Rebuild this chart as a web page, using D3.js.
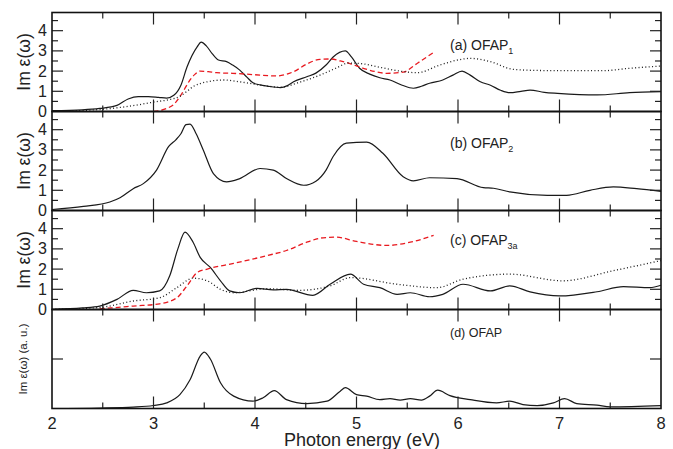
<!DOCTYPE html>
<html lang="en">
<head>
<meta charset="UTF-8">
<title>Im eps spectra</title>
<script src="https://d3js.org/d3.v7.min.js"></script>
<style>
  body { margin: 0; background: #fff; }
  svg text { font-family: "Liberation Sans", Arial, Helvetica, sans-serif; fill: #222; }
</style>
</head>
<body>
<div id="chart"></div>
<script>
// photon energy axis
const energyTicks = [2, 3, 4, 5, 6, 7, 8];
const epsTicks = [0, 1, 2, 3, 4];

// (a) OFAP1  [eV, Im eps]
const aSolid = [[2.0,0.04],[2.3,0.08],[2.47,0.15],[2.64,0.3],[2.75,0.62],[2.85,0.74],[2.95,0.74],[3.05,0.7],[3.13,0.66],[3.2,0.8],[3.27,1.3],[3.33,2.2],[3.43,3.2],[3.47,3.43],[3.52,3.25],[3.58,2.85],[3.64,2.55],[3.72,2.47],[3.78,2.3],[3.85,2.05],[3.92,1.7],[3.98,1.42],[4.05,1.32],[4.12,1.26],[4.25,1.18],[4.32,1.28],[4.38,1.47],[4.51,1.72],[4.6,1.9],[4.7,2.3],[4.77,2.7],[4.89,3.0],[4.95,2.7],[5.03,2.14],[5.13,1.85],[5.23,1.67],[5.33,1.56],[5.45,1.3],[5.56,1.15],[5.64,1.25],[5.72,1.4],[5.85,1.56],[5.95,1.8],[6.04,2.0],[6.12,1.8],[6.22,1.47],[6.32,1.3],[6.42,1.05],[6.51,0.93],[6.62,1.0],[6.71,1.06],[6.85,0.95],[6.98,0.9],[7.37,0.82],[7.69,0.93],[8.0,0.98]];
const aDashed = [[3.0,0.0],[3.13,0.15],[3.2,0.35],[3.26,0.73],[3.31,1.15],[3.36,1.56],[3.41,1.85],[3.46,2.0],[3.54,1.97],[3.62,1.92],[3.78,1.89],[4.0,1.82],[4.21,1.76],[4.3,1.83],[4.38,1.97],[4.51,2.35],[4.64,2.58],[4.75,2.6],[4.84,2.5],[4.95,2.35],[5.06,2.15],[5.18,1.98],[5.3,1.89],[5.46,1.95],[5.6,2.39],[5.77,2.96]];
const aDotted = [[2.0,0.02],[2.3,0.05],[2.47,0.1],[2.8,0.29],[3.03,0.49],[3.15,0.58],[3.26,0.75],[3.33,1.0],[3.39,1.23],[3.53,1.47],[3.69,1.56],[3.85,1.47],[4.05,1.31],[4.25,1.2],[4.44,1.45],[4.64,1.8],[4.8,2.15],[4.92,2.4],[5.06,2.36],[5.22,2.2],[5.4,2.02],[5.6,1.92],[5.82,2.3],[6.0,2.55],[6.12,2.63],[6.32,2.47],[6.54,2.09],[6.8,2.03],[7.03,2.02],[7.43,2.02],[7.69,2.14],[8.0,2.25]];

// (b) OFAP2
const bSolid = [[2.0,0.05],[2.31,0.2],[2.57,0.42],[2.67,0.63],[2.8,1.08],[2.9,1.33],[3.03,2.0],[3.15,3.17],[3.22,3.5],[3.27,3.8],[3.32,4.25],[3.36,4.28],[3.42,3.8],[3.49,3.0],[3.59,1.83],[3.72,1.42],[3.85,1.58],[4.05,2.08],[4.18,2.0],[4.31,1.58],[4.48,1.25],[4.6,1.45],[4.7,2.0],[4.77,2.67],[4.9,3.33],[5.1,3.38],[5.26,2.83],[5.46,1.67],[5.56,1.47],[5.72,1.62],[5.99,1.58],[6.25,1.13],[6.35,1.1],[6.51,0.92],[6.88,0.75],[7.07,0.75],[7.3,1.0],[7.53,1.17],[7.76,1.08],[8.0,0.95]];

// (c) OFAP3a
const cSolid = [[2.0,0.01],[2.3,0.08],[2.47,0.17],[2.64,0.5],[2.8,0.95],[2.93,0.83],[3.06,0.92],[3.16,1.67],[3.24,3.0],[3.31,3.83],[3.39,3.33],[3.46,2.58],[3.56,2.08],[3.66,1.42],[3.75,0.92],[3.85,0.83],[4.02,1.05],[4.18,0.97],[4.31,1.0],[4.57,0.7],[4.74,1.25],[4.94,1.75],[5.07,1.25],[5.23,1.08],[5.4,0.75],[5.53,0.83],[5.72,0.63],[5.85,0.75],[6.05,1.25],[6.32,0.92],[6.51,1.17],[6.71,0.87],[7.0,0.67],[7.37,0.88],[7.63,1.13],[7.89,1.08],[8.0,1.2]];
const cDashed = [[2.47,0.03],[2.8,0.17],[3.06,0.28],[3.23,0.58],[3.33,1.17],[3.43,1.83],[3.53,2.0],[3.79,2.28],[4.12,2.67],[4.31,2.92],[4.51,3.33],[4.67,3.55],[4.8,3.58],[5.0,3.37],[5.3,3.17],[5.53,3.33],[5.76,3.67]];
const cDotted = [[2.0,0.01],[2.47,0.1],[2.8,0.42],[3.06,0.58],[3.23,1.08],[3.39,1.55],[3.53,1.42],[3.66,1.0],[3.79,0.83],[4.12,1.03],[4.44,0.95],[4.74,1.17],[4.94,1.58],[5.4,1.25],[5.79,1.08],[6.05,1.5],[6.51,1.75],[7.03,1.42],[7.53,1.92],[8.0,2.42]];

// (d) OFAP  (arbitrary units)
const dSolid = [[2.0,0.0],[2.47,0.005],[2.8,0.014],[3.0,0.03],[3.13,0.057],[3.26,0.14],[3.36,0.29],[3.46,0.53],[3.5,0.57],[3.56,0.5],[3.66,0.26],[3.79,0.125],[3.98,0.074],[4.08,0.108],[4.19,0.18],[4.31,0.09],[4.51,0.05],[4.71,0.074],[4.84,0.175],[4.89,0.21],[5.0,0.14],[5.1,0.125],[5.23,0.09],[5.33,0.1],[5.43,0.085],[5.53,0.1],[5.64,0.085],[5.72,0.125],[5.8,0.185],[5.92,0.13],[6.12,0.09],[6.38,0.057],[6.51,0.074],[6.64,0.04],[6.78,0.03],[6.94,0.057],[7.05,0.1],[7.17,0.05],[7.37,0.034],[7.5,0.017],[8.0,0.03]];

const panels = [
  { label: "(a) OFAP", sub: "1", lines: [aSolid, aDashed, aDotted], rel: false },
  { label: "(b) OFAP", sub: "2", lines: [bSolid], rel: false },
  { label: "(c) OFAP", sub: "3a", lines: [cSolid, cDashed, cDotted], rel: false },
  { label: "(d) OFAP", sub: "", lines: [dSolid], rel: true }
];
const styles = [
  { stroke: "#1a1a1a", dash: null },
  { stroke: "#e8191f", dash: "5,3" },
  { stroke: "#1a1a1a", dash: "1,2.4" }
];

const W = 673, H = 449;
const left = 52, right = 661, top0 = 12.5, ph = 99;

const svg = d3.select("#chart").append("svg")
  .attr("width", W).attr("height", H);

const x = d3.scaleLinear().domain([2, 8]).range([left, right]);
const xMinor = d3.range(2.5, 8, 1);

panels.forEach((p, i) => {
  const t = top0 + i * ph, b = t + ph;
  const y = p.rel
    ? d3.scaleLinear().domain([0, 1]).range([b, t])
    : d3.scaleLinear().domain([0, 4.9]).range([b, t]);
  const g = svg.append("g");

  const line = d3.line().x(d => x(d[0])).y(d => y(d[1])).curve(d3.curveMonotoneX);
  p.lines.forEach((data, k) => {
    g.append("path").datum(data)
      .attr("d", line)
      .attr("fill", "none")
      .attr("stroke", styles[k].stroke)
      .attr("stroke-width", k === 0 ? 1.2 : 1.3)
      .attr("stroke-dasharray", styles[k].dash);
  });

  // x ticks, inward from top and bottom
  const tk = g.append("g").attr("stroke", "#222").attr("stroke-width", 1.2);
  energyTicks.slice(1, -1).concat(xMinor).forEach(v => {
    const len = Number.isInteger(v) ? 12 : 6;
    tk.append("line").attr("x1", x(v)).attr("x2", x(v)).attr("y1", t).attr("y2", t + len);
    tk.append("line").attr("x1", x(v)).attr("x2", x(v)).attr("y1", b).attr("y2", b - len);
  });

  // y ticks on both sides
  const yt = p.rel ? [0.5] : d3.range(0.5, 4.9, 0.5);
  yt.forEach(v => {
    const len = (p.rel || Number.isInteger(v)) ? 11 : 6;
    tk.append("line").attr("x1", left).attr("x2", left + len).attr("y1", y(v)).attr("y2", y(v));
    tk.append("line").attr("x1", right).attr("x2", right - len).attr("y1", y(v)).attr("y2", y(v));
  });

  if (!p.rel) {
    epsTicks.forEach(v => {
      g.append("text").attr("x", 47).attr("y", y(v) + 5.5)
        .attr("text-anchor", "end").style("font-size", "16px").text(v);
    });
    g.append("text")
      .attr("transform", `translate(30,${(t + b) / 2}) rotate(-90)`)
      .attr("text-anchor", "middle").style("font-size", "17.5px")
      .text("Im ε(ω)");
  } else {
    g.append("text")
      .attr("transform", `translate(27,${(t + b) / 2}) rotate(-90)`)
      .attr("text-anchor", "middle").style("font-size", "11.5px")
      .text("Im ε(ω) (a. u.)");
  }

  const lab = g.append("text").attr("x", 450)
    .attr("y", [50, 148, 245, 337][i])
    .style("font-size", p.rel ? "12.5px" : "14px")
    .text(p.label);
  if (p.sub) {
    lab.append("tspan").attr("dy", 4).style("font-size", "9px").text(p.sub);
  }

  g.append("rect").attr("x", left).attr("y", t)
    .attr("width", right - left).attr("height", ph)
    .attr("fill", "none").attr("stroke", "#111").attr("stroke-width", 1.6);
});

// bottom axis labels
const bottom = top0 + 4 * ph;
energyTicks.forEach(v => {
  svg.append("text").attr("x", x(v)).attr("y", bottom + 20)
    .attr("text-anchor", "middle").style("font-size", "16.5px").text(v);
});
svg.append("text").attr("x", 362).attr("y", 446)
  .attr("text-anchor", "middle").style("font-size", "18px")
  .text("Photon energy (eV)");
</script>
</body>
</html>
